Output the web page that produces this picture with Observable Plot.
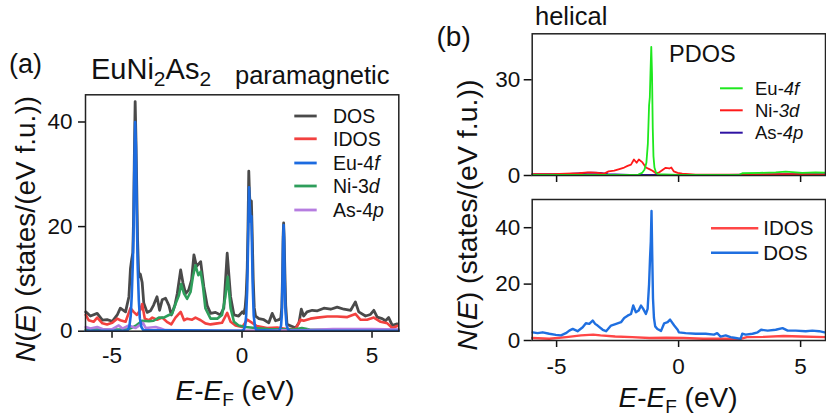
<!DOCTYPE html>
<html>
<head>
<meta charset="utf-8">
<script src="https://cdn.jsdelivr.net/npm/d3@7"></script>
<script src="https://cdn.jsdelivr.net/npm/@observablehq/plot@0.6"></script>
<style>
  html, body { margin: 0; padding: 0; background: #fff; }
  #wrap { position: relative; width: 826px; height: 417px; overflow: hidden; font-family: Arial, "Liberation Sans", Helvetica, sans-serif; }
  #wrap > svg, #wrap > div { position: absolute; }
  #wrap svg [aria-label$="tick"] path { stroke-width: 1.5px; }
</style>
</head>
<body>
<div id="wrap"></div>
<script>
// ---------- Panel (a): EuNi2As2 paramagnetic ----------
const aDOS_x = [-6.01,-5.83,-5.57,-5.37,-5.19,-4.99,-4.80,-4.68,-4.48,-4.35,-4.29,-4.24,-4.20,-4.17,-4.14,-4.11,-4.08,-4.05,-4.02,-3.98,-3.94,-3.91,-3.84,-3.78,-3.65,-3.52,-3.40,-3.27,-3.17,-3.07,-2.94,-2.81,-2.72,-2.58,-2.49,-2.36,-2.27,-2.17,-2.05,-1.94,-1.85,-1.75,-1.59,-1.47,-1.34,-1.21,-1.02,-0.83,-0.70,-0.57,-0.44,-0.31,-0.13,0.01,0.07,0.12,0.16,0.20,0.23,0.26,0.29,0.33,0.36,0.39,0.43,0.47,0.52,0.65,0.84,1.03,1.16,1.29,1.42,1.49,1.53,1.56,1.58,1.60,1.62,1.65,1.68,1.73,1.93,2.06,2.19,2.28,2.37,2.50,2.70,2.90,3.15,3.41,3.66,3.92,4.18,4.36,4.49,4.75,4.94,5.07,5.20,5.39,5.52,5.64,5.78,5.97];
const aDOS_y = [3.7,2.9,3.4,2.1,2.2,1.9,3.1,4.4,3.7,6.6,12.0,13.8,15,22,34,43.9,37,28,18,11.5,10.4,10.9,9.3,5.4,3.6,3.9,5.0,6.6,4.0,6.0,6.3,4.9,3.1,5.0,7.2,11.7,9.2,7.2,7.9,9.8,14.6,12.4,13.3,8.5,4.9,3.4,3.6,3.1,4.4,14.9,6.6,3.1,2.9,3.7,3.4,4.5,7,12,20,30.6,26,23,24.9,19,10,4.5,2.9,2.4,2.2,1.6,3.4,2.0,2.2,2.5,4.5,11,18,20.7,18,11,5,1.3,0.9,0.6,1.6,4.2,2.9,3.7,4.0,3.9,4.4,4.2,4.6,4.2,4.0,5.6,3.7,2.9,3.2,4.0,2.7,2.4,2.0,2.6,1.1,1.4];

const aIDOS_x = [-6.01,-5.90,-5.71,-5.57,-5.37,-5.19,-4.99,-4.80,-4.68,-4.48,-4.29,-4.17,-4.04,-3.91,-3.84,-3.74,-3.58,-3.45,-3.27,-3.07,-2.89,-2.72,-2.56,-2.36,-2.23,-2.11,-1.92,-1.79,-1.59,-1.41,-1.21,-0.95,-0.77,-0.57,-0.44,-0.25,0.01,0.20,0.39,0.57,0.96,1.35,1.73,2.06,2.25,2.37,2.63,2.90,3.28,3.66,4.05,4.36,4.55,4.81,5.07,5.33,5.59,5.78,5.97];
const aIDOS_y = [3.1,2.1,1.8,2.6,1.5,1.3,1.6,2.4,2.1,1.8,4.4,3.7,3.1,4.1,5.2,2.4,2.1,2.6,2.2,2.6,1.8,1.3,2.6,3.7,2.1,2.4,2.2,2.6,2.1,1.5,1.3,1.5,1.6,3.5,1.8,1.1,0.8,2.2,1.6,1.0,0.6,0.7,0.4,0.4,2.2,2.0,2.4,2.6,2.8,2.8,2.7,3.3,2.2,2.2,2.6,1.8,1.5,0.6,1.0];

const aEu_x = [-6.01,-4.45,-4.40,-4.33,-4.28,-4.24,-4.20,-4.17,-4.14,-4.11,-4.08,-4.06,-4.04,-4.01,-3.97,-3.93,-3.87,-3.80,0.00,0.07,0.12,0.16,0.20,0.23,0.25,0.27,0.30,0.33,0.36,0.38,0.41,0.45,0.50,0.55,1.40,1.45,1.50,1.53,1.56,1.58,1.60,1.62,1.64,1.67,1.71,1.77,1.85,6.03];
const aEu_y = [0.1,0.1,0.2,1,3,7,13,20,32,40,35,27,20,12,6,2.5,0.8,0.2,0.1,0.3,1,3,8,16,22,27.5,24,21,22,17,9,3,0.8,0.2,0.1,0.2,1,3,10,17,20.3,17,10,4,1.2,0.3,0.1,0.1];

const aNi_x = [-6.01,-4.40,-4.10,-3.84,-3.58,-3.40,-3.20,-3.01,-2.81,-2.69,-2.56,-2.43,-2.34,-2.23,-2.11,-1.98,-1.89,-1.79,-1.68,-1.59,-1.50,-1.41,-1.21,-0.95,-0.77,-0.64,-0.55,-0.44,-0.31,-0.13,0.14,0.50,1.00,2.00,2.30,2.60,6.03];
const aNi_y = [0.3,0.3,1.0,2.0,1.9,2.0,2.6,2.6,3.1,3.3,5.2,6.8,9.0,7.2,6.2,7.5,10.4,12.6,10.7,11.4,8.5,4.4,2.4,2.4,3.1,6.6,10.4,4.4,1.8,1.1,0.8,0.6,0.4,0.3,0.6,0.3,0.2];

const aAs_x = [-6.01,-5.83,-5.57,-5.30,-4.99,-4.74,-4.60,-4.35,-4.10,-3.81,-3.70,-3.32,-3.13,-2.95,-1.00,2.50,3.50,5.00,6.03];
const aAs_y = [0.8,0.5,0.8,0.3,0.4,1.1,0.5,1.1,0.6,1.6,0.6,0.8,0.5,0.2,0.1,0.2,0.4,0.4,0.3];

// ---------- Panel (b) top: helical PDOS ----------
const bEu_x = [-6.0,-2.0,-1.65,-1.50,-1.40,-1.32,-1.26,-1.21,-1.18,-1.15,-1.12,-1.09,-1.06,-1.03,-0.99,-0.93,-0.86,0.0,2.5,2.61,3.3,3.98,4.39,5.07,5.61,6.0];
const bEu_y = [0.2,0.2,0.3,0.8,1.8,4,10,22,24.5,33,40.3,32,15,6,2.5,1,0.4,0.2,0.3,0.7,0.8,1.0,1.2,0.8,1.0,0.9];

const bNi_x = [-6.0,-5.16,-4.62,-4.07,-3.73,-3.39,-3.05,-2.87,-2.64,-2.43,-2.23,-2.09,-1.95,-1.83,-1.72,-1.63,-1.48,-1.34,-1.20,-1.07,-0.93,-0.79,-0.66,-0.53,-0.38,-0.30,-0.20,-0.04,0.15,0.70,1.5,3.0,4.5,6.0];
const bNi_y = [0.4,0.4,0.6,0.7,1.0,0.9,0.6,1.3,1.5,2.0,2.5,3.0,3.4,5.0,4.0,5.0,4.1,2.5,2.0,1.5,0.7,1.0,1.7,2.4,2.2,2.5,1.3,0.8,0.6,0.3,0.3,0.3,0.4,0.3];

const bAs_x = [-6.0,-4.6,-4.0,-3.6,-3.2,-2.9,-2.0,0.0,2.0,3.0,4.5,6.0];
const bAs_y = [0.4,0.4,0.7,0.9,0.8,0.4,0.2,0.2,0.2,0.3,0.4,0.4];

// ---------- Panel (b) bottom: helical DOS / IDOS ----------
const bDOS_x = [-5.98,-5.78,-5.57,-5.30,-5.03,-4.82,-4.62,-4.48,-4.34,-4.14,-3.93,-3.80,-3.66,-3.52,-3.42,-3.32,-3.11,-2.97,-2.77,-2.56,-2.36,-2.23,-2.09,-1.95,-1.86,-1.75,-1.64,-1.54,-1.45,-1.34,-1.27,-1.21,-1.17,-1.14,-1.11,-1.08,-1.05,-1.01,-0.96,-0.87,-0.72,-0.59,-0.45,-0.35,-0.18,-0.04,0.01,0.29,0.70,1.11,1.45,1.58,1.72,1.93,2.13,2.34,2.54,2.61,2.75,3.03,3.24,3.38,3.65,3.98,4.26,4.47,4.80,5.21,5.48,5.76,5.98];
const bDOS_y = [2.9,2.6,2.9,2.4,2.0,1.8,2.6,3.5,4.1,3.3,4.7,6.1,5.9,7.1,5.9,5.3,3.8,3.3,5.3,5.9,6.5,8.0,8.8,9.4,12.4,10.0,10.6,12.4,11.2,9.4,11.2,20,29.4,35,45.9,30,15,8,5,4.1,3.4,6.1,6.5,7.4,5.3,3.8,2.9,2.6,2.4,2.4,2.1,2.6,1.4,1.8,1.2,0.9,0.6,2.4,2.1,2.4,2.9,3.8,3.5,3.8,4.4,3.5,3.5,3.3,3.5,3.3,2.9];

const bIDOS_x = [-6.0,-5.3,-4.6,-4.0,-3.5,-3.2,-2.6,-1.9,-1.2,-0.5,0.2,1.0,2.0,2.5,2.8,3.5,4.3,5.0,6.0];
const bIDOS_y = [0.9,0.6,1.2,1.8,2.1,1.8,1.4,1.2,0.9,1.0,0.9,0.6,0.6,0.5,1.2,1.3,1.6,1.4,1.2];

// tick values
const xTicks = [-5, 0, 5];
const aYTicks = [0, 20, 40];
const bTopYTicks = [0, 30];
const bBotYTicks = [0, 20, 40];

const zip = (xs, ys) => xs.map((x, i) => ({x, y: ys[i]}));
const FONT = 'Arial, "Liberation Sans", Helvetica, sans-serif';
const wrap = document.getElementById("wrap");

function place(el, left, top) {
  el.style.position = "absolute";
  el.style.left = left + "px";
  el.style.top = top + "px";
  wrap.appendChild(el);
}
const baseStyle = {fontFamily: FONT, fontSize: "22.5px", background: "transparent", overflow: "visible", color: "#111"};

// Panel (a)
const plotA = Plot.plot({
  width: 420, height: 417,
  marginLeft: 85, marginRight: 21.7, marginTop: 94.3, marginBottom: 86.3,
  style: baseStyle,
  x: {domain: [-6.02, 6.03], ticks: xTicks, tickFormat: d => String(d), tickSize: 7, tickPadding: 9, label: null},
  y: {domain: [0, 45.2], ticks: aYTicks, tickFormat: d => String(d), tickSize: 7, tickPadding: 6, label: null},
  marks: [
    Plot.line(zip(aDOS_x, aDOS_y), {x: "x", y: "y", stroke: "#4a4a4a", strokeWidth: 2.8}),
    Plot.line(zip(aIDOS_x, aIDOS_y), {x: "x", y: "y", stroke: "#f2413f", strokeWidth: 2.6}),
    Plot.line(zip(aNi_x, aNi_y), {x: "x", y: "y", stroke: "#2e9e5b", strokeWidth: 2.6}),
    Plot.line(zip(aAs_x, aAs_y), {x: "x", y: "y", stroke: "#b67de0", strokeWidth: 2.6}),
    Plot.line(zip(aEu_x, aEu_y), {x: "x", y: "y", stroke: "#1c6be0", strokeWidth: 2.6}),
    Plot.frame({stroke: "#222", strokeWidth: 1.5})
  ]
});
place(plotA, 0, 0);

// Panel (b) top
const plotBT = Plot.plot({
  width: 396, height: 190,
  marginLeft: 101.7, marginRight: 1, marginTop: 33.3, marginBottom: 15,
  style: baseStyle,
  x: {domain: [-6.0, 6.02], ticks: xTicks, tickFormat: () => "", tickSize: 7, tickPadding: 2, label: null},
  y: {domain: [0, 44.4], ticks: bTopYTicks, tickFormat: d => String(d), tickSize: 8, tickPadding: 4, label: null},
  marks: [
    Plot.line(zip(bAs_x, bAs_y), {x: "x", y: "y", stroke: "#2f13a3", strokeWidth: 1.8}),
    Plot.line(zip(bNi_x, bNi_y), {x: "x", y: "y", stroke: "#ff1a1a", strokeWidth: 1.8}),
    Plot.line(zip(bEu_x, bEu_y), {x: "x", y: "y", stroke: "#1ee81e", strokeWidth: 1.8}),
    Plot.frame({stroke: "#222", strokeWidth: 1.5})
  ]
});
place(plotBT, 430, 0);

// Panel (b) bottom
const plotBB = Plot.plot({
  width: 396, height: 227,
  marginLeft: 101.7, marginRight: 1, marginTop: 9, marginBottom: 77,
  style: baseStyle,
  x: {domain: [-6.0, 6.02], ticks: xTicks, tickFormat: d => String(d), tickSize: 7, tickPadding: 11, label: null},
  y: {domain: [0, 50], ticks: bBotYTicks, tickFormat: d => String(d), tickSize: 8, tickPadding: 4, label: null},
  marks: [
    Plot.line(zip(bIDOS_x, bIDOS_y), {x: "x", y: "y", stroke: "#ff4646", strokeWidth: 2.4}),
    Plot.line(zip(bDOS_x, bDOS_y), {x: "x", y: "y", stroke: "#1f6fe0", strokeWidth: 2.4}),
    Plot.frame({stroke: "#222", strokeWidth: 1.5})
  ]
});
place(plotBB, 430, 190);

// ---------- Overlay: titles, axis labels, legends ----------
const NS = "http://www.w3.org/2000/svg";
const ov = document.createElementNS(NS, "svg");
ov.setAttribute("width", 826); ov.setAttribute("height", 417);
ov.style.position = "absolute"; ov.style.left = "0px"; ov.style.top = "0px";
ov.style.pointerEvents = "none";
ov.style.fontFamily = FONT;
wrap.appendChild(ov);

function txt(x, y, parts, size, opts = {}) {
  const t = document.createElementNS(NS, "text");
  t.setAttribute("x", x); t.setAttribute("y", y);
  t.setAttribute("font-size", size);
  t.setAttribute("fill", "#111");
  if (opts.anchor) t.setAttribute("text-anchor", opts.anchor);
  if (opts.transform) t.setAttribute("transform", opts.transform);
  for (const p of parts) {
    const s = document.createElementNS(NS, "tspan");
    s.textContent = p.t;
    if (p.i) s.setAttribute("font-style", "italic");
    if (p.size) s.setAttribute("font-size", p.size);
    if (p.dy) s.setAttribute("dy", p.dy);
    t.appendChild(s);
  }
  ov.appendChild(t);
  return t;
}
function seg(x1, x2, y, color, w) {
  const l = document.createElementNS(NS, "line");
  l.setAttribute("x1", x1); l.setAttribute("x2", x2);
  l.setAttribute("y1", y); l.setAttribute("y2", y);
  l.setAttribute("stroke", color); l.setAttribute("stroke-width", w);
  ov.appendChild(l);
}

// Panel labels and titles
txt(9, 73, [{t: "(a)"}], 27);
txt(91, 79.3, [{t: "EuNi"}, {t: "2", size: 21, dy: 7}, {t: "As", dy: -7}, {t: "2", size: 21, dy: 7}], 29);
txt(235, 84, [{t: "paramagnetic"}], 25.5);
txt(436.5, 46, [{t: "(b)"}], 28);
txt(535, 25, [{t: "helical"}], 25.5);
txt(669, 61.7, [{t: "PDOS"}], 23.5);

// Axis titles
const yTitle = [{t: "N", i: true}, {t: "("}, {t: "E", i: true}, {t: ") (states/(eV f.u.))"}];
txt(35, 229, yTitle, 28, {anchor: "middle", transform: "rotate(-90 35 229)"});
txt(477, 215, yTitle, 28.5, {anchor: "middle", transform: "rotate(-90 477 215)"});
const xTitle = [{t: "E", i: true}, {t: "-"}, {t: "E", i: true}, {t: "F", size: 19, dy: 6}, {t: " (eV)", dy: -6}];
txt(235, 400, xTitle, 28, {anchor: "middle"});
txt(678, 406.7, xTitle, 28, {anchor: "middle"});

// Legend (a)
const legA = [
  {parts: [{t: "DOS"}], c: "#4a4a4a"},
  {parts: [{t: "IDOS"}], c: "#f2413f"},
  {parts: [{t: "Eu-4"}, {t: "f", i: true}], c: "#1c6be0"},
  {parts: [{t: "Ni-3"}, {t: "d", i: true}], c: "#2e9e5b"},
  {parts: [{t: "As-4"}, {t: "p", i: true}], c: "#b67de0"}
];
const legAy = [116, 138.8, 163, 186, 210];
legA.forEach((d, i) => {
  seg(294.3, 316.7, legAy[i], d.c, 2.8);
  txt(333, legAy[i] + 6.8, d.parts, 19.5);
});

// Legend (b) top
const legBT = [
  {parts: [{t: "Eu-"}, {t: "4f", i: true}], c: "#1ee81e"},
  {parts: [{t: "Ni-"}, {t: "3d", i: true}], c: "#ff1a1a"},
  {parts: [{t: "As-"}, {t: "4p", i: true}], c: "#2f13a3"}
];
const legBTy = [88.3, 110.3, 132.7];
legBT.forEach((d, i) => {
  seg(720, 742.7, legBTy[i], d.c, 2);
  txt(755, legBTy[i] + 6.3, d.parts, 18.5);
});

// Legend (b) bottom
const legBB = [
  {parts: [{t: "IDOS"}], c: "#ff4646"},
  {parts: [{t: "DOS"}], c: "#1f6fe0"}
];
const legBBy = [228.3, 252.7];
legBB.forEach((d, i) => {
  seg(711, 758.3, legBBy[i], d.c, 2.4);
  txt(763.3, legBBy[i] + 7, d.parts, 20.5);
});
</script>
</body>
</html>
